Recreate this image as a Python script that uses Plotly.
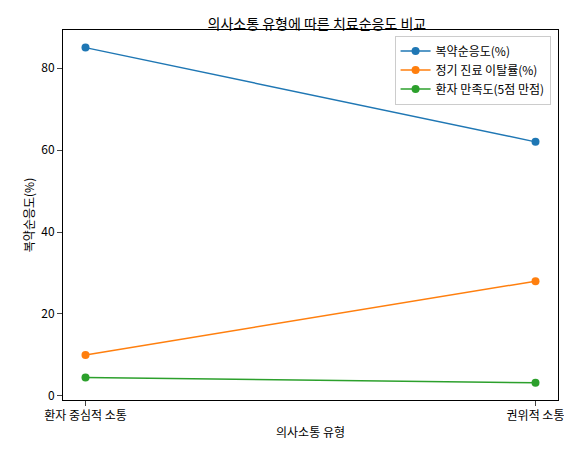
import plotly.graph_objs as go

categories = ['환자 중심적 소통', '권위적 소통']
adherence = [85, 62]
dropout = [10, 28]
satisfaction = [4.5, 3.2]

FONT = 'Noto Sans CJK KR'
fig = go.Figure()
series = [('복약순응도(%)', adherence, '#1f77b4'),
          ('정기 진료 이탈률(%)', dropout, '#ff7f0e'),
          ('환자 만족도(5점 만점)', satisfaction, '#2ca02c')]
for name, vals, col in series:
    fig.add_trace(go.Scatter(x=[0, 1], y=vals, name=name, mode='lines+markers',
                             line=dict(color=col, width=1.5), marker=dict(size=8, color=col)))

fig.update_layout(
    width=572, height=454, plot_bgcolor='white', paper_bgcolor='white',
    font=dict(family=FONT, size=12, color='black'),
    margin=dict(l=55, r=22, t=22, b=62),
    title=dict(text='의사소통 유형에 따른 치료순응도 비교', x=0.54, xanchor='center', y=0.975, font=dict(size=14)),
    legend=dict(x=0.985, y=0.985, xanchor='right', yanchor='top', bordercolor='#cccccc',
                borderwidth=1, bgcolor='rgba(255,255,255,0.8)', font=dict(size=12)),
    xaxis=dict(range=[-0.05, 1.05], tickvals=[0, 1], ticktext=categories, showgrid=False,
               showline=True, linecolor='black', mirror=True, ticks='outside', zeroline=False,
               title=dict(text='의사소통 유형', standoff=6, font=dict(size=12))),
    yaxis=dict(range=[-1, 89.3], tickvals=[0, 20, 40, 60, 80], showgrid=False,
               showline=True, linecolor='black', mirror=True, ticks='outside', zeroline=False,
               title=dict(text='복약순응도(%)', standoff=4, font=dict(size=12))),
)
fig.write_html('out.html')
